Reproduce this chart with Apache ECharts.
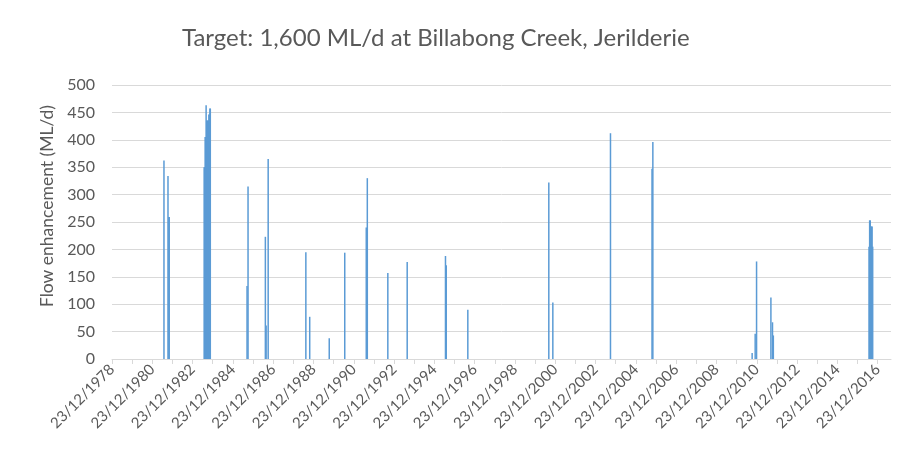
<!DOCTYPE html>
<html>
<head>
<meta charset="utf-8">
<script src="https://cdn.jsdelivr.net/npm/echarts@6/dist/echarts.min.js"></script>
<style>
html,body{margin:0;padding:0;background:#fff;}
#chart{width:917px;height:469px;}
</style>
</head>
<body>
<div id="chart"></div>
<script>
// ---- data ----
const chartTitle = 'Target: 1,600 ML/d at Billabong Creek, Jerilderie';
const yAxisTitle = 'Flow enhancement (ML/d)';
const dates = [
  '1981-07-22','1981-10-03','1981-10-21','1981-10-24',
  '1983-07-21','1983-07-30','1983-08-08','1983-08-17','1983-08-25','1983-09-06','1983-09-16','1983-09-27','1983-10-06','1983-10-15','1983-10-22','1983-11-02','1983-11-09',
  '1985-09-05','1985-09-23',
  '1986-08-03','1986-08-17','1986-09-23',
  '1988-08-06','1988-10-15',
  '1989-10-04',
  '1990-07-12',
  '1991-08-06','1991-08-25',
  '1992-08-31',
  '1993-08-17',
  '1995-07-12','1995-07-26',
  '1996-08-20',
  '2000-08-27','2000-11-08',
  '2003-09-19',
  '2005-10-11','2005-10-26',
  '2010-09-30','2010-11-24','2010-12-19',
  '2011-09-05','2011-10-04','2011-10-19',
  '2016-07-19','2016-07-30','2016-08-10','2016-08-21','2016-09-01','2016-09-12','2016-09-23'
];
const flows = [
  362,334,259,259,
  350,350,405,405,463,435,435,435,435,446,446,457,457,
  133,315,
  223,61,365,
  195,77,
  38,
  194,
  240,330,
  157,
  177,
  188,171,
  90,
  322,103,
  412,
  347,396,
  11,46,178,
  112,67,43,
  205,253,253,205,242,242,205
];
const axisStart = '1978-12-23';
const axisEnd = '2017-08-21';
const tickYears = [];
for (let y = 1978; y <= 2016; y++) tickYears.push(y);
const labelYears = tickYears.filter(y => (y - 1978) % 2 === 0);
const yTicks = [0,50,100,150,200,250,300,350,400,450,500];

// ---- build ----
const toTs = s => Date.parse(s + 'T00:00:00Z');
const tickValues = tickYears.map(y => toTs(y + '-12-23'));
const labelValues = labelYears.map(y => toTs(y + '-12-23'));
const seriesData = dates.map((d, i) => [toTs(d), flows[i]]);
const pad = n => (n < 10 ? '0' : '') + n;

const chart = echarts.init(document.getElementById('chart'), null, {renderer: 'canvas'});
chart.setOption({
  animation: false,
  textStyle: {fontFamily: 'Lato, "Open Sans", sans-serif'},
  title: {
    text: chartTitle,
    left: 177,
    top: 21,
    textStyle: {fontSize: 24, fontWeight: 'normal', color: '#595959', fontFamily: 'Lato, "Open Sans", sans-serif'}
  },
  grid: {left: 112, right: 26, top: 85, bottom: 110, containLabel: false},
  xAxis: {
    type: 'value',
    min: toTs(axisStart),
    max: toTs(axisEnd),
    axisLine: {show: true, lineStyle: {color: '#d9d9d9', width: 1}},
    axisTick: {show: true, length: 5, lineStyle: {color: '#d9d9d9'}, customValues: tickValues},
    splitLine: {show: false},
    axisLabel: {
      customValues: labelValues,
      rotate: 45,
      fontSize: 15,
      color: '#595959',
      margin: 8,
      formatter: v => {
        const d = new Date(v);
        return pad(d.getUTCDate()) + '/' + pad(d.getUTCMonth() + 1) + '/' + d.getUTCFullYear();
      }
    }
  },
  yAxis: {
    type: 'value',
    min: yTicks[0],
    max: yTicks[yTicks.length - 1],
    interval: 50,
    name: yAxisTitle,
    nameLocation: 'middle',
    nameRotate: 90,
    nameGap: 56,
    nameTextStyle: {fontSize: 17.5, color: '#595959', padding: [0, 0, 0, 32]},
    axisLine: {show: false},
    axisTick: {show: false},
    splitLine: {lineStyle: {color: '#d9d9d9', width: 1}},
    axisLabel: {fontSize: 16, color: '#595959', margin: 17}
  },
  series: [{
    type: 'bar',
    data: seriesData,
    barWidth: 1.5,
    itemStyle: {color: '#5B9BD5'}
  }]
});
</script>
</body>
</html>
